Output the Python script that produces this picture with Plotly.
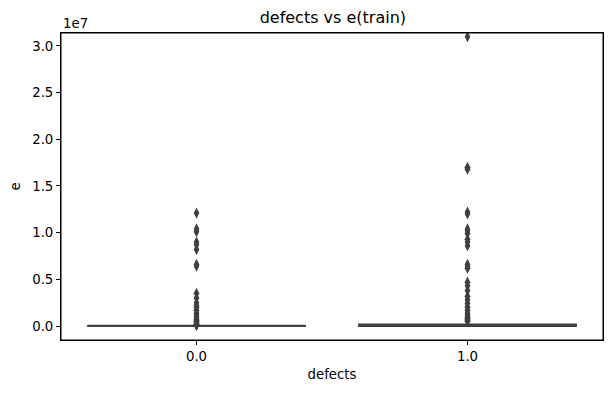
import plotly.graph_objects as go

categories = [0.0, 1.0]
tick_labels = ["0.0", "1.0"]
q1 = [0.0, 10000.0]
median = [5000.0, 50000.0]
q3 = [15000.0, 150000.0]
lower_fence = [0.0, 0.0]
upper_fence = [40000.0, 400000.0]

outliers_0 = [12.1e6, 10.4e6, 10.1e6, 9.0e6, 8.7e6, 8.2e6, 6.6e6, 6.4e6, 3.5e6, 3.0e6,
              2.5e6, 2.2e6, 2.0e6, 1.7e6, 1.4e6, 1.2e6, 1.0e6, 0.85e6, 0.7e6, 0.6e6,
              0.5e6, 0.4e6, 0.32e6, 0.25e6, 0.2e6, 0.15e6, 0.1e6, 0.07e6]
outliers_1 = [31.0e6, 17.0e6, 16.8e6, 12.2e6, 12.0e6, 10.4e6, 10.2e6, 9.9e6, 9.3e6, 9.0e6,
              8.6e6, 6.6e6, 6.4e6, 6.2e6, 4.7e6, 4.3e6, 3.8e6, 3.2e6, 2.8e6, 2.4e6,
              2.0e6, 1.7e6, 1.4e6, 1.2e6, 1.0e6, 0.9e6, 0.8e6, 0.7e6, 0.6e6, 0.5e6]

y_tick_vals = [0.0, 0.5e7, 1.0e7, 1.5e7, 2.0e7, 2.5e7, 3.0e7]
y_tick_text = ["0.0", "0.5", "1.0", "1.5", "2.0", "2.5", "3.0"]

dark = "#3f3f3f"
font = "DejaVu Sans"

fig = go.Figure()
fig.add_trace(go.Box(
    x=categories, q1=q1, median=median, q3=q3,
    lowerfence=lower_fence, upperfence=upper_fence,
    boxpoints=False, width=0.8,
    fillcolor=dark, line=dict(color=dark, width=2),
    whiskerwidth=0, showlegend=False, hoverinfo="skip",
))
fig.add_trace(go.Scatter(
    x=[categories[0]] * len(outliers_0), y=outliers_0, mode="markers",
    marker=dict(symbol="diamond-tall", size=8, color=dark), showlegend=False,
))
fig.add_trace(go.Scatter(
    x=[categories[1]] * len(outliers_1), y=outliers_1, mode="markers",
    marker=dict(symbol="diamond-tall", size=8, color=dark), showlegend=False,
))

fig.update_layout(
    width=613, height=393,
    margin=dict(l=61, r=10, t=33, b=53, autoexpand=False),
    paper_bgcolor="white", plot_bgcolor="white",
    font=dict(family=font, size=13.3, color="black"),
    title=dict(text="defects vs e(train)", x=0.543, xanchor="center", y=0.955, yanchor="middle",
               font=dict(size=16, family=font, color="black"), automargin=False),
    xaxis=dict(range=[-0.5, 1.5], tickvals=categories, ticktext=tick_labels, automargin=False,
               showgrid=False, zeroline=False, ticks="outside", ticklen=4, tickcolor="black",
               showline=True, linecolor="black", linewidth=1, mirror=True,
               title=dict(text="defects", font=dict(size=13.3), standoff=6)),
    yaxis=dict(range=[-0.15e7, 3.139e7], tickvals=y_tick_vals, ticktext=y_tick_text, automargin=False,
               showgrid=False, zeroline=False, ticks="outside", ticklen=4, tickcolor="black",
               showline=True, linecolor="black", linewidth=1, mirror=True,
               title=dict(text="e", font=dict(size=13.3), standoff=8)),
    shapes=[dict(type="rect", xref="paper", yref="paper", x0=0, x1=1, y0=0, y1=1,
                 line=dict(color="black", width=1), fillcolor="rgba(0,0,0,0)", layer="above")],
    annotations=[dict(text="1e7", xref="paper", yref="paper", x=0, y=1, xanchor="left",
                      yanchor="bottom", showarrow=False, font=dict(size=13.3, family=font), yshift=0)],
)

fig.write_html("out.html", config={"displayModeBar": False},
               post_script="document.body.style.margin='0';")
